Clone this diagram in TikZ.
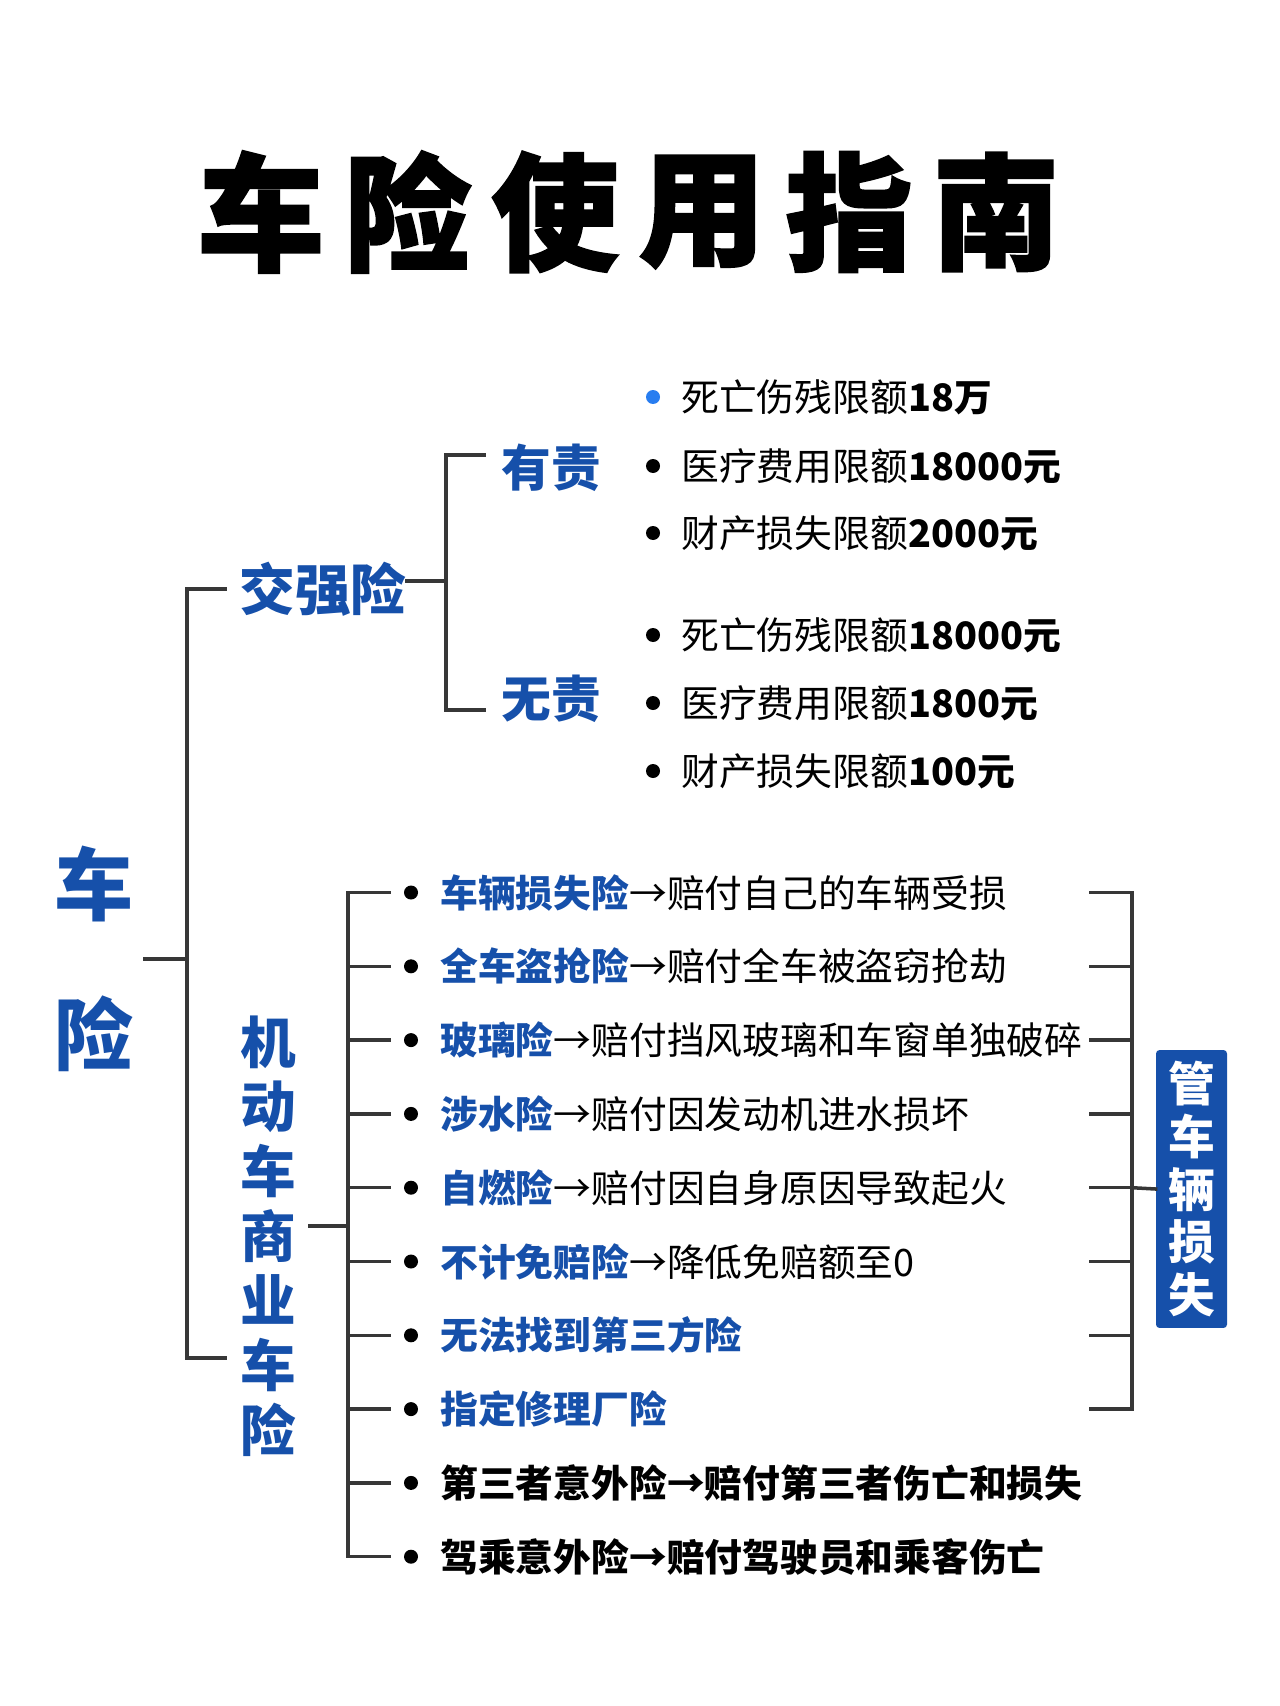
\documentclass[tikz,border=0pt]{standalone}
\usepackage{fontspec}
\setmainfont{Noto Sans CJK SC}
\definecolor{carblue}{RGB}{22,80,170}
\definecolor{dotblue}{RGB}{40,125,240}
\definecolor{linegray}{RGB}{55,55,55}
\newcommand{\blu}[1]{\textcolor{carblue}{\bfseries #1}}

\begin{document}
\begin{tikzpicture}[x=0.02cm, y=-0.02cm,
    line/.style={draw=linegray, line width=2pt, line cap=rect},
    titlechar/.style={inner sep=0, font=\bfseries\addfontfeature{FakeBold=2}\fontsize{72}{72}\selectfont},
    rootnode/.style={inner xsep=0.22cm, inner ysep=0, align=center, text=carblue, font=\bfseries\fontsize{45}{85}\selectfont},
    branch/.style={inner sep=0, anchor=west, text=carblue, font=\bfseries\fontsize{31.7}{36.8}\selectfont},
    sub/.style={inner sep=0, anchor=west, text=carblue, font=\bfseries\fontsize{28.3}{32}\selectfont},
    vtext/.style={inner sep=0, align=center, text=carblue, font=\bfseries\fontsize{31.7}{36.8}\selectfont},
    item/.style={inner sep=0, anchor=west, font=\fontsize{21.5}{26}\selectfont},
    dot/.style={circle, fill=#1, inner sep=0, minimum size=0.28cm},
    dot/.default=black,
    tagbox/.style={fill=carblue, rounded corners=2pt, inner sep=0, minimum width=1.42cm, minimum height=5.56cm,
      text=white, align=center, font=\bfseries\fontsize{26.6}{30}\selectfont}]
\useasboundingbox (0,0) rectangle (1280,1706);

% Title
\foreach \c [count=\i] in {车,险,使,用,指,南}
  \node[titlechar] (t\i) at ({261+147*(\i-1)},212) {\c};

% Nodes
\node[rootnode] (root) at (94,959) {车\\险};
\node[branch] (jq) at (239,589) {交强险};
\node[sub] (yz) at (501,468) {有责};
\node[sub] (wz) at (501,699) {无责};
\node[vtext] (sy) at (268,1236) {机\\动\\车\\商\\业\\车\\险};
\node[tagbox] (box) at (1191.5,1189) {管\\车\\辆\\损\\失};

% Jiaoqiang items
\foreach \i/\y/\c/\t in {1/397/dotblue/{死亡伤残限额\textbf{18万}},
    2/466/black/{医疗费用限额\textbf{18000元}},
    3/533/black/{财产损失限额\textbf{2000元}},
    4/635/black/{死亡伤残限额\textbf{18000元}},
    5/703/black/{医疗费用限额\textbf{1800元}},
    6/771/black/{财产损失限额\textbf{100元}}} {
  \node[dot=\c] (jd\i) at (653,\y) {};
  \node[item] (jt\i) at (681,\y) {\t};
}

% Commercial items
\foreach \i/\t in {1/{\blu{车辆损失险}→赔付自己的车辆受损},
    2/{\blu{全车盗抢险}→赔付全车被盗窃抢劫},
    3/{\blu{玻璃险}→赔付挡风玻璃和车窗单独破碎},
    4/{\blu{涉水险}→赔付因发动机进水损坏},
    5/{\blu{自燃险}→赔付因自身原因导致起火},
    6/{\blu{不计免赔险}→降低免赔额至0},
    7/{\blu{无法找到第三方险}},
    8/{\blu{指定修理厂险}},
    9/{\bfseries 第三者意外险→赔付第三者伤亡和损失},
    10/{\bfseries 驾乘意外险→赔付驾驶员和乘客伤亡}} {
  \node[dot] (d\i) at (411,{892.5+73.8*(\i-1)}) {};
  \node[item] (it\i) at (440,{892.5+73.8*(\i-1)}) {\t};
}

% Lines
\coordinate (s1x) at (187,0);
\coordinate (s2x) at (446,0);
\coordinate (lx) at (348,0);
\coordinate (rx) at (1091,0);
\coordinate (sx) at (1132,0);
\coordinate (bt) at (225,1358);
\coordinate (jqe) at ([yshift=0.16cm]jq.east);
\coordinate (yzt) at ([yshift=0.26cm]yz.west);
\coordinate (wzt) at ([yshift=-0.22cm]wz.west);
\coordinate (syc) at ([yshift=0.2cm]sy.east);

\draw[line] (root.east) -- (root -| s1x);
\draw[line, shorten <=0.28cm] (jq.west) -- (jq.west -| s1x) -- (bt -| s1x) -- (bt);
\draw[line] (jqe) -- (jqe -| s2x);
\draw[line, shorten <=0.34cm, shorten >=0.34cm] (yzt) -- (yzt -| s2x) -- (wzt -| s2x) -- (wzt);
\draw[line, shorten <=0.28cm] (syc) -- (syc -| lx);
\draw[line] (d1 -| lx) -- (d10 -| lx);
\foreach \i in {1,...,10}
  \draw[line, shorten <=0.28cm] (d\i.west) -- (d\i -| lx);
\draw[line] (it1 -| rx) -- (it1 -| sx) -- (it8 -| sx) -- (it8 -| rx);
\foreach \i in {2,...,7}
  \draw[line] (it\i -| rx) -- (it\i -| sx);
\draw[line] (it5 -| sx) -- (box.west);
\end{tikzpicture}
\end{document}
